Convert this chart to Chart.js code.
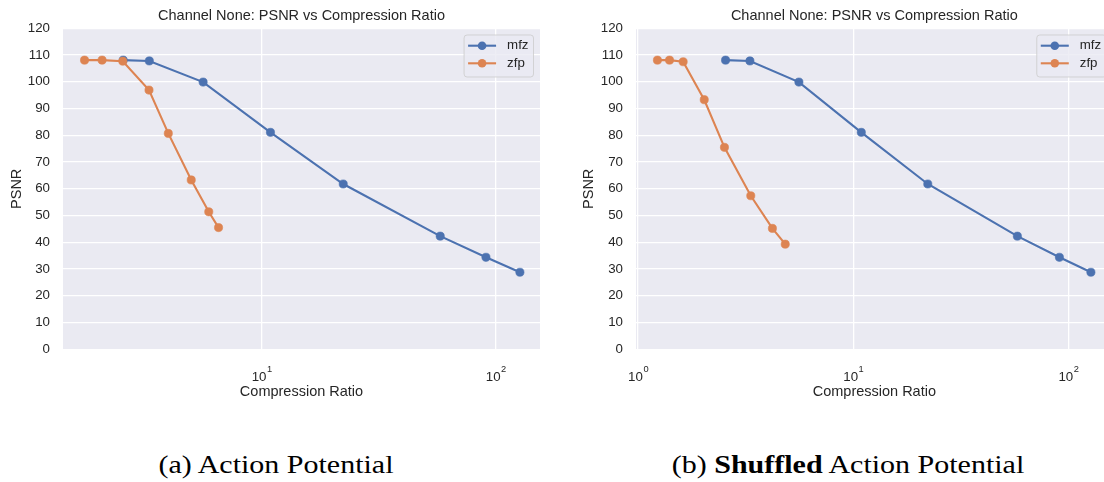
<!DOCTYPE html>
<html lang="en">
<head>
<meta charset="UTF-8">
<title>PSNR vs Compression Ratio</title>
<script src="https://cdn.jsdelivr.net/npm/chart.js"></script>
<style>
    body {
        margin: 0;
        width: 1104px;
        height: 482px;
        overflow: hidden;
        background: #fff;
        position: relative;
        font-family: "Liberation Sans", Arial, sans-serif;
    }

    .panel {
        position: absolute;
        top: 0;
    }

    .caption {
        position: absolute;
        top: 451px;
        font-family: "Liberation Serif", serif;
        font-size: 25px;
        color: #000;
        white-space: nowrap;
        transform: translateX(-50%) scaleX(1.2);
    }
</style>
</head>
<body>
<canvas id="chartA" class="panel" width="552" height="410" style="left:0px"></canvas>
<canvas id="chartB" class="panel" width="573" height="410" style="left:552px"></canvas>
<div class="caption" style="left:276px">(a) Action Potential</div>
<div class="caption" style="left:848px">(b) <b>Shuffled</b> Action Potential</div>

<script>
    // series values
    const seriesNames = ['mfz', 'zfp'];
    const seriesColors = ['#4C72B0', '#DD8452'];

    // (a) Action Potential
    const mfzRatioA = [2.56, 3.31, 5.62, 10.9, 22.3, 57.9, 90.8, 126.8];
    const mfzPsnrA  = [108.1, 107.8, 99.9, 81.1, 61.8, 42.3, 34.4, 28.8];
    const zfpRatioA = [1.75, 2.08, 2.55, 3.30, 3.99, 5.00, 5.94, 6.54];
    const zfpPsnrA  = [108.1, 108.1, 107.7, 96.9, 80.7, 63.3, 51.4, 45.5];

    // (b) Shuffled Action Potential
    const mfzRatioB = [2.55, 3.31, 5.59, 10.9, 22.2, 57.9, 90.8, 127.2];
    const mfzPsnrB  = [108.1, 107.8, 99.9, 81.1, 61.8, 42.3, 34.4, 28.8];
    const zfpRatioB = [1.23, 1.40, 1.62, 2.03, 2.52, 3.34, 4.21, 4.83];
    const zfpPsnrB  = [108.1, 108.1, 107.5, 93.3, 75.5, 57.4, 45.2, 39.3];

    // axis ticks
    const xTickValues = [1, 10, 100];
    const xTickBase = '10';
    const xTickExponents = ['0', '1', '2'];
    const yMin = 0, yMax = 120, yStep = 10;

    const titleText = 'Channel None: PSNR vs Compression Ratio';
    const xTitle = 'Compression Ratio';
    const yTitle = 'PSNR';
    const textColor = '#262626';
    const fontFamily = '"Liberation Sans", Arial, sans-serif';

    // grey plot background like seaborn darkgrid
    const plotBackground = {
        id: 'plotBackground',
        beforeDraw(chart) {
            const a = chart.chartArea;
            const ctx = chart.ctx;
            ctx.save();
            ctx.fillStyle = '#EAEAF2';
            ctx.fillRect(a.left, a.top, a.right - a.left, a.bottom - a.top);
            ctx.restore();
        }
    };

    // title centred over the plot area, and 10^n tick labels
    const axisText = {
        id: 'axisText',
        afterDraw(chart) {
            const ctx = chart.ctx;
            const a = chart.chartArea;
            ctx.save();
            ctx.fillStyle = textColor;
            ctx.textAlign = 'center';
            ctx.textBaseline = 'middle';
            ctx.font = '14.5px ' + fontFamily;
            ctx.fillText(titleText, (a.left + a.right) / 2, 15.8);

            const xs = chart.scales.x;
            ctx.textAlign = 'left';
            ctx.textBaseline = 'alphabetic';
            xTickValues.forEach((v, i) => {
                if (v < xs.min || v > xs.max) return;
                const px = xs.getPixelForValue(v);
                ctx.font = '13.3px ' + fontFamily;
                const wb = ctx.measureText(xTickBase).width;
                ctx.font = '9.3px ' + fontFamily;
                const we = ctx.measureText(xTickExponents[i]).width;
                const x0 = px - (wb + we) / 2;
                ctx.font = '13.3px ' + fontFamily;
                ctx.fillText(xTickBase, x0, a.bottom + 31.5);
                ctx.font = '9.3px ' + fontFamily;
                ctx.fillText(xTickExponents[i], x0 + wb + 0.5, a.bottom + 22.5);
            });
            ctx.restore();
        }
    };

    // legend drawn inside the plot, upper right
    const insideLegend = {
        id: 'insideLegend',
        afterDatasetsDraw(chart) {
            const ctx = chart.ctx;
            const a = chart.chartArea;
            ctx.save();
            ctx.font = '13.3px ' + fontFamily;
            const textW = Math.max(...seriesNames.map(n => ctx.measureText(n).width));
            const w = 4 + 28 + 11 + textW + 5;
            const h = 42;
            const x0 = a.right - 6.5 - w;
            const y0 = a.top + 6.7;
            ctx.beginPath();
            ctx.roundRect(x0, y0, w, h, 3);
            ctx.fillStyle = 'rgba(234,234,242,0.8)';
            ctx.fill();
            ctx.strokeStyle = 'rgba(204,204,204,0.8)';
            ctx.lineWidth = 1;
            ctx.stroke();
            seriesNames.forEach((name, i) => {
                const y = y0 + 10.7 + i * 17.6;
                ctx.strokeStyle = seriesColors[i];
                ctx.lineWidth = 2.1;
                ctx.beginPath();
                ctx.moveTo(x0 + 4, y);
                ctx.lineTo(x0 + 32, y);
                ctx.stroke();
                ctx.fillStyle = seriesColors[i];
                ctx.beginPath();
                ctx.arc(x0 + 18, y, 4.3, 0, Math.PI * 2);
                ctx.fill();
                ctx.fillStyle = textColor;
                ctx.textBaseline = 'middle';
                ctx.fillText(name, x0 + 43, y);
            });
            ctx.restore();
        }
    };

    function toPoints(xs, ys) {
        return xs.map((x, i) => ({ x: x, y: ys[i] }));
    }

    function makeChart(id, mfzX, mfzY, zfpX, zfpY, opt) {
        const datasets = [
            { label: seriesNames[0], data: toPoints(mfzX, mfzY), order: 1 },
            { label: seriesNames[1], data: toPoints(zfpX, zfpY), order: 0 }
        ].map((d, i) => Object.assign(d, {
            borderColor: seriesColors[i],
            backgroundColor: seriesColors[i],
            pointBackgroundColor: seriesColors[i],
            pointBorderColor: seriesColors[i],
            borderWidth: 2.1,
            pointRadius: 4.1,
            pointBorderWidth: 0.6,
            tension: 0
        }));

        return new Chart(document.getElementById(id), {
            type: 'line',
            data: { datasets: datasets },
            options: {
                responsive: false,
                animation: false,
                layout: { padding: { left: 0, right: opt.padRight, top: 28.3, bottom: 5.3 } },
                plugins: {
                    legend: { display: false },
                    tooltip: { enabled: false },
                    title: { display: false }
                },
                scales: {
                    x: {
                        type: 'logarithmic',
                        min: opt.xMin,
                        max: opt.xMax,
                        afterBuildTicks: s => {
                            s.ticks = xTickValues.filter(v => v >= s.min && v <= s.max).map(v => ({ value: v }));
                        },
                        afterFit: s => { s.height = 55.4; },
                        ticks: { display: false, autoSkip: false },
                        grid: { color: '#ffffff', lineWidth: 1.3, drawTicks: false },
                        border: { display: false },
                        title: {
                            display: true,
                            text: xTitle,
                            color: textColor,
                            font: { family: fontFamily, size: 14.5, lineHeight: 1.2 },
                            padding: { top: 4, bottom: 4 }
                        }
                    },
                    y: {
                        min: yMin,
                        max: yMax,
                        afterFit: s => { s.width = opt.yWidth; },
                        ticks: {
                            stepSize: yStep,
                            padding: 13,
                            color: textColor,
                            font: { family: fontFamily, size: 13.3, lineHeight: 1.2 }
                        },
                        grid: { color: '#ffffff', lineWidth: 1.3, drawTicks: false },
                        border: { display: false },
                        title: {
                            display: true,
                            text: yTitle,
                            color: textColor,
                            font: { family: fontFamily, size: 14.5, lineHeight: 1.2 },
                            padding: { top: opt.yTitlePad, bottom: 4 }
                        }
                    }
                }
            },
            plugins: [plotBackground, axisText, insideLegend]
        });
    }

    makeChart('chartA', mfzRatioA, mfzPsnrA, zfpRatioA, zfpPsnrA,
        { xMin: 1.416, xMax: 154.5, yWidth: 63, yTitlePad: 8.5, padRight: 12 });
    makeChart('chartB', mfzRatioB, mfzPsnrB, zfpRatioB, zfpPsnrB,
        { xMin: 0.978, xMax: 160.6, yWidth: 84, yTitlePad: 28.5, padRight: 12.3 });
</script>
</body>
</html>
